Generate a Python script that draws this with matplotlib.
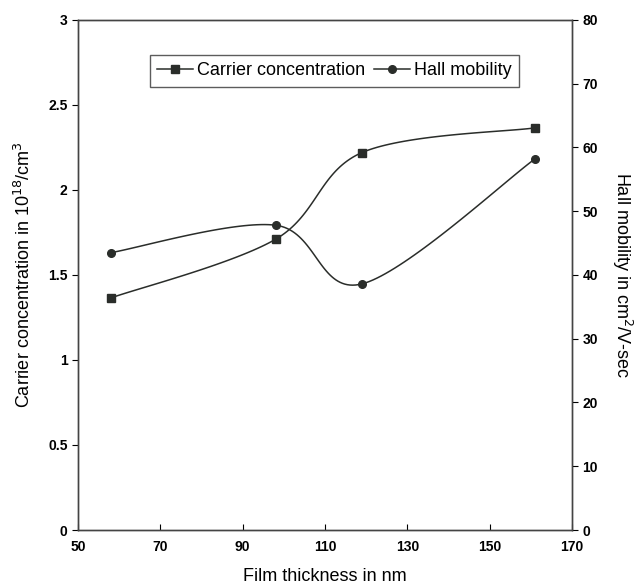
import numpy as np
import matplotlib.pyplot as plt

plt.rcParams['font.family'] = ['Liberation Sans', 'DejaVu Sans']

thickness = [58, 98, 119, 161]
carrier = [1.365, 1.71, 2.22, 2.365]
mobility = [43.5, 47.8, 38.6, 58.2]


def smooth(x, y, xr, yr, n=40):
    # excel-style smoothed line (cardinal bezier), done in axis-normalised space
    x = np.asarray(x, float) / xr
    y = np.asarray(y, float) / yr
    p = np.column_stack([x, y])
    pts = []
    for i in range(len(p) - 1):
        p0 = p[i - 1] if i > 0 else p[i]
        p3 = p[i + 2] if i + 2 < len(p) else p[i + 1]
        c1 = p[i] + (p[i + 1] - p0) / 6
        c2 = p[i + 1] - (p3 - p[i]) / 6
        t = np.linspace(0, 1, n)[:, None]
        seg = ((1 - t) ** 3 * p[i] + 3 * (1 - t) ** 2 * t * c1
               + 3 * (1 - t) * t ** 2 * c2 + t ** 3 * p[i + 1])
        pts.append(seg)
    pts = np.vstack(pts)
    return pts[:, 0] * xr, pts[:, 1] * yr


fig = plt.figure(figsize=(6.41, 5.85), dpi=100)
ax = fig.add_axes([0.1217, 0.094, 0.7707, 0.872])
ax2 = ax.twinx()

col = '#2a2d2a'
sx, sy = smooth(thickness, carrier, 120, 3)
ax.plot(sx, sy, color=col, lw=1.1)
ax.plot(thickness, carrier, ls='none', marker='s', ms=5.5, color=col)
hx, hy = smooth(thickness, mobility, 120, 80)
ax2.plot(hx, hy, color=col, lw=1.1)
ax2.plot(thickness, mobility, ls='none', marker='o', ms=5.5, color=col)

ax.set_xlim(50, 170)
ax.set_ylim(0, 3)
ax2.set_ylim(0, 80)
ax.set_xticks(range(50, 171, 20))
ax.set_yticks([0, 0.5, 1, 1.5, 2, 2.5, 3])
ax.set_yticklabels(['0', '0.5', '1', '1.5', '2', '2.5', '3'])
ax2.set_yticks(range(0, 81, 10))

for a in (ax, ax2):
    for s in a.spines.values():
        s.set_color('#444444')
        s.set_linewidth(1)
ax.tick_params(axis='x', direction='in', length=4, labelsize=10, pad=7)
ax.tick_params(axis='y', direction='out', length=4, labelsize=10)
ax2.tick_params(axis='y', direction='out', length=4, labelsize=10)
for lbl in ax.get_xticklabels() + ax.get_yticklabels() + ax2.get_yticklabels():
    lbl.set_fontweight('bold')

ax.set_xlabel('Film thickness in nm', fontsize=13, labelpad=10)
ax.set_ylabel('Carrier concentration in 10$^{18}$/cm$^{3}$', fontsize=13, labelpad=10)
ax2.set_ylabel('Hall mobility in cm$^{2}$/V-sec', fontsize=13, rotation=270, labelpad=26)

h1 = plt.Line2D([], [], color=col, lw=1.1, marker='s', ms=5.5)
h2 = plt.Line2D([], [], color=col, lw=1.1, marker='o', ms=5.5)
leg = ax2.legend([h1, h2], ['Carrier concentration', 'Hall mobility'], ncol=2,
                 loc='upper center', bbox_to_anchor=(0.519, 0.931), fontsize=13,
                 frameon=True, fancybox=False, handlelength=2.0, handletextpad=0.2,
                 columnspacing=0.5, borderpad=0.4, borderaxespad=0)
leg.get_frame().set_edgecolor('#333333')
leg.get_frame().set_linewidth(1)

fig.savefig('out.png', dpi=100)
